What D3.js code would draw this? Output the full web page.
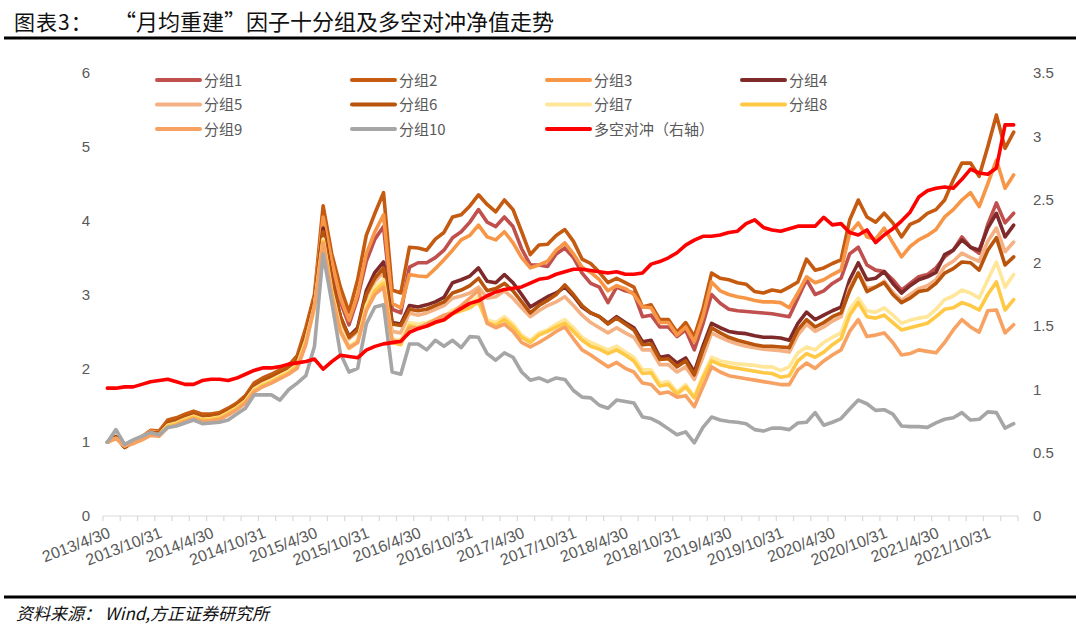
<!DOCTYPE html>
<html><head><meta charset="utf-8">
<script src="https://cdn.jsdelivr.net/npm/d3@7"></script>
<style>body{margin:0;background:#fff;} svg{display:block;}</style>
</head><body>
<script>
const months = [
"2013/4","2013/5","2013/6","2013/7","2013/8","2013/9","2013/10","2013/11","2013/12",
"2014/1","2014/2","2014/3","2014/4","2014/5","2014/6","2014/7","2014/8","2014/9","2014/10","2014/11","2014/12",
"2015/1","2015/2","2015/3","2015/4","2015/5","2015/6","2015/7","2015/8","2015/9","2015/10","2015/11","2015/12",
"2016/1","2016/2","2016/3","2016/4","2016/5","2016/6","2016/7","2016/8","2016/9","2016/10","2016/11","2016/12",
"2017/1","2017/2","2017/3","2017/4","2017/5","2017/6","2017/7","2017/8","2017/9","2017/10","2017/11","2017/12",
"2018/1","2018/2","2018/3","2018/4","2018/5","2018/6","2018/7","2018/8","2018/9","2018/10","2018/11","2018/12",
"2019/1","2019/2","2019/3","2019/4","2019/5","2019/6","2019/7","2019/8","2019/9","2019/10","2019/11","2019/12",
"2020/1","2020/2","2020/3","2020/4","2020/5","2020/6","2020/7","2020/8","2020/9","2020/10","2020/11","2020/12",
"2021/1","2021/2","2021/3","2021/4","2021/5","2021/6","2021/7","2021/8","2021/9","2021/10","2021/11","2021/12",
"2022/1"];

const tickLabels = ["2013/4/30","2013/10/31","2014/4/30","2014/10/31","2015/4/30","2015/10/31","2016/4/30","2016/10/31","2017/4/30","2017/10/31","2018/4/30","2018/10/31","2019/4/30","2019/10/31","2020/4/30","2020/10/31","2021/4/30","2021/10/31"];
const leftTicks = [0,1,2,3,4,5,6];
const rightTicks = [0,0.5,1,1.5,2,2.5,3,3.5];

const g1 = [1.00,1.07,0.94,1.00,1.06,1.14,1.14,1.28,1.31,1.36,
1.40,1.36,1.37,1.39,1.45,1.52,1.62,1.78,1.85,1.90,
1.96,2.02,2.14,2.50,2.95,3.95,3.35,2.90,2.59,2.95,
3.45,3.75,3.92,2.80,2.75,3.37,3.43,3.43,3.50,3.60,
3.77,3.85,3.98,4.15,3.98,3.92,4.05,3.92,3.62,3.40,
3.40,3.38,3.55,3.63,3.50,3.29,3.15,3.10,2.89,3.10,
3.05,3.02,2.70,2.72,2.56,2.56,2.43,2.52,2.25,2.60,
3.00,2.88,2.80,2.78,2.77,2.76,2.75,2.74,2.72,2.70,
2.95,3.20,3.00,3.05,3.15,3.22,3.55,3.64,3.40,3.33,
3.31,3.20,3.06,3.15,3.24,3.27,3.36,3.51,3.60,3.78,
3.64,3.56,3.95,4.24,3.97,4.10];
const g2 = [1.00,1.08,0.93,1.00,1.07,1.16,1.15,1.30,1.33,1.38,
1.42,1.38,1.38,1.40,1.46,1.53,1.63,1.80,1.87,1.92,
1.98,2.04,2.17,2.55,3.00,4.20,3.55,3.10,2.76,3.20,
3.80,4.10,4.38,3.06,3.02,3.64,3.63,3.60,3.75,3.84,
4.05,4.08,4.20,4.35,4.22,4.12,4.28,4.15,3.85,3.54,
3.67,3.68,3.80,3.88,3.72,3.48,3.42,3.30,3.16,3.22,
3.16,3.10,2.83,2.86,2.66,2.66,2.49,2.62,2.43,2.80,
3.29,3.22,3.20,3.16,3.14,3.04,3.02,3.06,3.04,3.10,
3.17,3.48,3.33,3.36,3.42,3.47,4.01,4.28,4.05,3.98,
4.10,3.97,3.78,3.95,4.00,4.10,4.15,4.28,4.55,4.78,
4.78,4.60,5.00,5.43,4.98,5.20];
const g3 = [1.00,1.06,0.95,1.01,1.07,1.15,1.13,1.27,1.30,1.35,
1.39,1.35,1.36,1.38,1.44,1.51,1.60,1.77,1.84,1.89,
1.95,2.01,2.12,2.48,2.95,4.05,3.45,2.95,2.65,3.00,
3.55,3.85,4.08,2.88,2.82,3.27,3.25,3.24,3.35,3.47,
3.60,3.74,3.80,3.94,3.78,3.74,3.85,3.70,3.50,3.36,
3.40,3.45,3.60,3.70,3.55,3.37,3.30,3.20,3.05,3.12,
3.08,3.00,2.83,2.82,2.62,2.62,2.45,2.56,2.36,2.70,
3.17,3.05,3.00,2.97,2.95,2.92,2.90,2.90,2.89,2.82,
3.02,3.24,3.16,3.20,3.27,3.33,3.83,3.97,3.78,3.75,
3.90,3.70,3.51,3.65,3.74,3.80,3.88,4.05,4.15,4.28,
4.38,4.19,4.50,4.82,4.44,4.62];
const g4 = [1.00,1.07,0.94,1.00,1.05,1.13,1.12,1.26,1.29,1.34,
1.38,1.34,1.35,1.37,1.43,1.50,1.60,1.76,1.83,1.88,
1.94,2.00,2.10,2.45,2.92,3.90,3.20,2.70,2.43,2.55,
3.05,3.30,3.44,2.62,2.60,2.85,2.83,2.86,2.90,2.96,
3.16,3.20,3.25,3.36,3.18,3.16,3.27,3.16,3.00,2.83,
2.90,2.97,3.02,3.10,2.98,2.83,2.75,2.70,2.61,2.70,
2.62,2.55,2.36,2.38,2.15,2.17,2.07,2.14,1.95,2.30,
2.61,2.55,2.50,2.48,2.47,2.44,2.42,2.42,2.41,2.38,
2.61,2.76,2.66,2.72,2.78,2.83,3.20,3.43,3.20,3.22,
3.31,3.15,3.02,3.12,3.20,3.24,3.30,3.54,3.60,3.74,
3.64,3.60,3.90,4.10,3.78,3.94];
const g5 = [1.00,1.06,0.95,0.99,1.04,1.12,1.11,1.25,1.28,1.33,
1.37,1.33,1.34,1.36,1.42,1.49,1.58,1.74,1.81,1.86,
1.92,1.98,2.08,2.42,2.90,3.80,3.15,2.65,2.40,2.50,
2.95,3.18,3.30,2.50,2.48,2.75,2.72,2.75,2.80,2.85,
2.95,2.98,3.02,3.10,2.95,2.97,3.05,2.95,2.82,2.70,
2.78,2.85,2.90,2.97,2.85,2.72,2.62,2.55,2.48,2.55,
2.48,2.42,2.25,2.25,2.05,2.05,1.95,2.02,1.85,2.15,
2.48,2.42,2.37,2.33,2.30,2.28,2.26,2.25,2.24,2.22,
2.45,2.60,2.50,2.56,2.64,2.70,3.10,3.30,3.08,3.10,
3.18,3.03,2.92,3.00,3.08,3.12,3.20,3.38,3.45,3.56,
3.50,3.45,3.72,3.90,3.58,3.71];
const g6 = [1.00,1.07,0.93,1.00,1.05,1.13,1.12,1.27,1.30,1.35,
1.39,1.35,1.36,1.38,1.44,1.51,1.61,1.77,1.84,1.89,
1.95,2.01,2.12,2.48,2.95,3.85,3.20,2.70,2.42,2.52,
3.00,3.22,3.36,2.60,2.58,2.80,2.78,2.80,2.85,2.90,
3.02,3.06,3.12,3.22,3.05,3.08,3.15,3.05,2.90,2.75,
2.85,2.92,3.00,3.13,3.00,2.85,2.75,2.70,2.60,2.68,
2.60,2.52,2.32,2.33,2.12,2.13,2.02,2.10,1.91,2.25,
2.55,2.48,2.42,2.38,2.35,2.32,2.30,2.30,2.29,2.28,
2.52,2.66,2.56,2.62,2.70,2.75,3.05,3.29,3.04,3.10,
3.16,3.00,2.89,2.95,3.04,3.06,3.15,3.29,3.35,3.44,
3.43,3.33,3.60,3.77,3.40,3.51];
const g7 = [1.00,1.05,0.95,0.99,1.04,1.11,1.10,1.23,1.26,1.31,
1.35,1.31,1.32,1.34,1.40,1.47,1.56,1.72,1.79,1.84,
1.90,1.96,2.05,2.38,2.85,3.75,3.05,2.55,2.30,2.38,
2.85,3.10,3.20,2.40,2.38,2.62,2.60,2.62,2.66,2.70,
2.79,2.83,2.88,2.97,2.66,2.62,2.70,2.60,2.45,2.38,
2.48,2.52,2.60,2.66,2.55,2.42,2.35,2.30,2.25,2.30,
2.22,2.15,1.98,1.98,1.80,1.82,1.68,1.78,1.61,1.90,
2.15,2.10,2.08,2.06,2.05,2.04,2.02,2.02,1.97,2.02,
2.21,2.29,2.25,2.35,2.42,2.48,2.80,2.95,2.78,2.76,
2.82,2.72,2.61,2.65,2.68,2.70,2.80,2.93,2.98,3.06,
3.02,2.95,3.20,3.44,3.10,3.27];
const g8 = [1.00,1.05,0.96,0.99,1.03,1.10,1.09,1.22,1.25,1.30,
1.34,1.30,1.31,1.33,1.39,1.46,1.55,1.70,1.77,1.82,
1.88,1.94,2.03,2.35,2.82,3.72,3.00,2.50,2.27,2.35,
2.80,3.05,3.15,2.35,2.32,2.58,2.55,2.57,2.62,2.65,
2.74,2.78,2.82,2.90,2.62,2.58,2.66,2.56,2.42,2.35,
2.45,2.50,2.56,2.61,2.50,2.38,2.30,2.26,2.20,2.25,
2.18,2.10,1.93,1.94,1.76,1.78,1.65,1.75,1.60,1.87,
2.10,2.05,2.02,2.00,1.98,1.96,1.94,1.93,1.88,1.90,
2.10,2.20,2.15,2.22,2.32,2.40,2.72,2.89,2.70,2.68,
2.72,2.62,2.52,2.55,2.58,2.61,2.70,2.80,2.82,2.89,
2.85,2.79,3.00,3.17,2.79,2.93];
const g9 = [1.00,1.05,0.95,0.98,1.03,1.09,1.08,1.20,1.23,1.28,
1.32,1.28,1.29,1.31,1.37,1.44,1.53,1.68,1.75,1.80,
1.86,1.92,2.00,2.32,2.85,3.70,3.00,2.50,2.28,2.35,
2.78,3.00,3.10,2.38,2.35,2.55,2.55,2.60,2.66,2.72,
2.75,2.85,2.95,3.06,2.61,2.55,2.60,2.50,2.35,2.29,
2.35,2.42,2.50,2.56,2.40,2.25,2.18,2.10,2.02,2.08,
2.00,1.95,1.80,1.78,1.66,1.68,1.61,1.63,1.48,1.75,
2.02,1.95,1.90,1.88,1.86,1.84,1.82,1.80,1.78,1.78,
1.98,2.07,2.00,2.10,2.18,2.25,2.50,2.66,2.43,2.45,
2.48,2.35,2.18,2.20,2.25,2.23,2.21,2.35,2.52,2.66,
2.56,2.49,2.78,2.79,2.48,2.59];
const g10 = [1.00,1.17,0.97,1.03,1.08,1.13,1.10,1.20,1.22,1.26,
1.30,1.25,1.26,1.27,1.30,1.38,1.46,1.64,1.64,1.64,
1.57,1.71,1.80,1.90,2.30,3.55,2.90,2.20,1.95,2.00,
2.60,2.83,2.86,1.95,1.92,2.33,2.33,2.25,2.38,2.30,
2.38,2.28,2.43,2.42,2.20,2.11,2.21,2.15,1.95,1.84,
1.87,1.82,1.87,1.85,1.70,1.61,1.60,1.50,1.46,1.57,
1.55,1.53,1.34,1.32,1.26,1.18,1.10,1.14,0.99,1.20,
1.34,1.30,1.28,1.27,1.25,1.17,1.15,1.19,1.19,1.17,
1.26,1.27,1.40,1.23,1.27,1.32,1.45,1.57,1.52,1.43,
1.44,1.38,1.22,1.21,1.21,1.20,1.26,1.31,1.33,1.40,
1.30,1.31,1.41,1.40,1.19,1.25];
const hedge = [1.01,1.01,1.02,1.02,1.04,1.06,1.07,1.08,1.06,1.04,
1.04,1.07,1.08,1.08,1.07,1.09,1.12,1.15,1.17,1.17,
1.18,1.20,1.21,1.22,1.24,1.16,1.22,1.27,1.26,1.25,
1.31,1.34,1.36,1.37,1.38,1.45,1.48,1.50,1.53,1.55,
1.60,1.64,1.68,1.70,1.74,1.77,1.79,1.80,1.81,1.84,
1.87,1.88,1.91,1.93,1.95,1.95,1.94,1.93,1.92,1.93,
1.91,1.91,1.92,1.99,2.01,2.04,2.08,2.14,2.18,2.21,
2.21,2.22,2.24,2.25,2.31,2.34,2.28,2.26,2.25,2.27,
2.29,2.29,2.29,2.36,2.30,2.31,2.24,2.22,2.26,2.16,
2.22,2.27,2.33,2.40,2.52,2.57,2.59,2.60,2.59,2.66,
2.74,2.71,2.70,2.75,3.09,3.09];

const groupNames = ["分组1","分组2","分组3","分组4","分组5","分组6","分组7","分组8","分组9","分组10"];
const groupColors = ["#C0504D","#C55A11","#F79646","#7F2A2A","#F4B183","#B8540C","#FFE699","#FFC845","#F7A262","#A6A6A6"];
const hedgeName = "多空对冲（右轴）";
const hedgeColor = "#FF0000";
const groups = [g1,g2,g3,g4,g5,g6,g7,g8,g9,g10];

const W = 1080, H = 642;
const plot = {left:103, right:1018, top:73, bottom:516};
const svg = d3.select("body").append("svg").attr("width",W).attr("height",H)
  .style("background","#fff");

const x = d3.scaleBand().domain(months).range([plot.left, plot.right]).paddingInner(0).paddingOuter(0);
const xc = m => x(m) + x.bandwidth()/2;
const yL = d3.scaleLinear().domain([0,6]).range([plot.bottom, plot.top]);
const yR = d3.scaleLinear().domain([0,3.5]).range([plot.bottom, plot.top]);

const sansCJK = "'Liberation Sans','Noto Sans CJK SC',Arial,sans-serif";

// Title
svg.append("text").attr("x",14).attr("y",30).attr("font-family","'Noto Sans CJK SC',sans-serif")
  .attr("font-size",21).attr("fill","#111").attr("letter-spacing",1).text("图表3：");
svg.append("text").attr("x",114).attr("y",30).attr("font-family","'Noto Sans CJK SC',sans-serif")
  .attr("font-size",22).attr("fill","#111").text("“月均重建”因子十分组及多空对冲净值走势");
svg.append("line").attr("x1",4).attr("x2",1076).attr("y1",38).attr("y2",38)
  .attr("stroke","#000").attr("stroke-width",3);

// Left axis
const axL = svg.append("g").attr("transform",`translate(${plot.left-8},0)`)
  .call(d3.axisLeft(yL).tickValues(leftTicks).tickSize(0).tickFormat(d3.format("d")));
axL.select(".domain").remove();
axL.selectAll("text").attr("font-family",sansCJK).attr("font-size",15).attr("fill","#595959").attr("dx",-2);

// Right axis
const axR = svg.append("g").attr("transform",`translate(${plot.right+10},0)`)
  .call(d3.axisRight(yR).tickValues(rightTicks).tickSize(0).tickFormat(d => String(d)));
axR.select(".domain").remove();
axR.selectAll("text").attr("font-family",sansCJK).attr("font-size",15).attr("fill","#595959").attr("dx",2);

// Bottom axis line + ticks every 2 months
svg.append("line").attr("x1",plot.left).attr("x2",plot.right).attr("y1",plot.bottom).attr("y2",plot.bottom)
  .attr("stroke","#D9D9D9").attr("stroke-width",1.2);
const tickMonths = months.filter((m,i) => i % 2 === 0);
svg.append("g").selectAll("line").data(tickMonths).join("line")
  .attr("x1",d => x(d)).attr("x2",d => x(d)).attr("y1",plot.bottom).attr("y2",plot.bottom+5)
  .attr("stroke","#D9D9D9").attr("stroke-width",1.2);
svg.append("line").attr("x1",plot.right).attr("x2",plot.right).attr("y1",plot.bottom).attr("y2",plot.bottom+5)
  .attr("stroke","#D9D9D9").attr("stroke-width",1.2);

// X labels
svg.append("g").selectAll("text").data(tickLabels).join("text")
  .attr("transform",(d,k) => `translate(${xc(months[k*6])+4},${plot.bottom+21}) rotate(-21)`)
  .attr("text-anchor","end").attr("font-family",sansCJK).attr("font-size",16).attr("fill","#595959")
  .text(d => d);

// Lines
const lineL = d3.line().x((d,i) => xc(months[i])).y(d => yL(d)).curve(d3.curveLinear);
const lineR = d3.line().x((d,i) => xc(months[i])).y(d => yR(d)).curve(d3.curveLinear);
const lg = svg.append("g").attr("fill","none").attr("stroke-linejoin","round").attr("stroke-linecap","round");
groups.forEach((s,k) => {
  lg.append("path").datum(s).attr("d",lineL).attr("stroke",groupColors[k]).attr("stroke-width",3.6);
});
lg.append("path").datum(hedge).attr("d",lineR).attr("stroke",hedgeColor).attr("stroke-width",3.6);

// Legend
const legendItems = groupNames.map((n,k) => ({name:n,color:groupColors[k]})).concat([{name:hedgeName,color:hedgeColor}]);
const leg = svg.append("g").selectAll("g").data(legendItems).join("g")
  .attr("transform",(d,k) => `translate(${157 + (k%4)*195},${80 + Math.floor(k/4)*24.5})`);
leg.append("line").attr("x1",0).attr("x2",43).attr("y1",0).attr("y2",0)
  .attr("stroke",d => d.color).attr("stroke-width",4).attr("stroke-linecap","round");
leg.append("text").attr("x",47).attr("y",5.5).attr("font-family","'Noto Sans CJK SC','Liberation Sans',sans-serif")
  .attr("font-size",15).attr("fill","#595959").text(d => d.name);

// Source
svg.append("line").attr("x1",4).attr("x2",1076).attr("y1",597).attr("y2",597)
  .attr("stroke","#000").attr("stroke-width",3);
svg.append("text").attr("x",16).attr("y",620).attr("font-family","'Noto Sans CJK SC',sans-serif")
  .attr("font-size",17).attr("font-style","italic").attr("fill","#111").text("资料来源： Wind,方正证券研究所");
</script>
</body></html>
